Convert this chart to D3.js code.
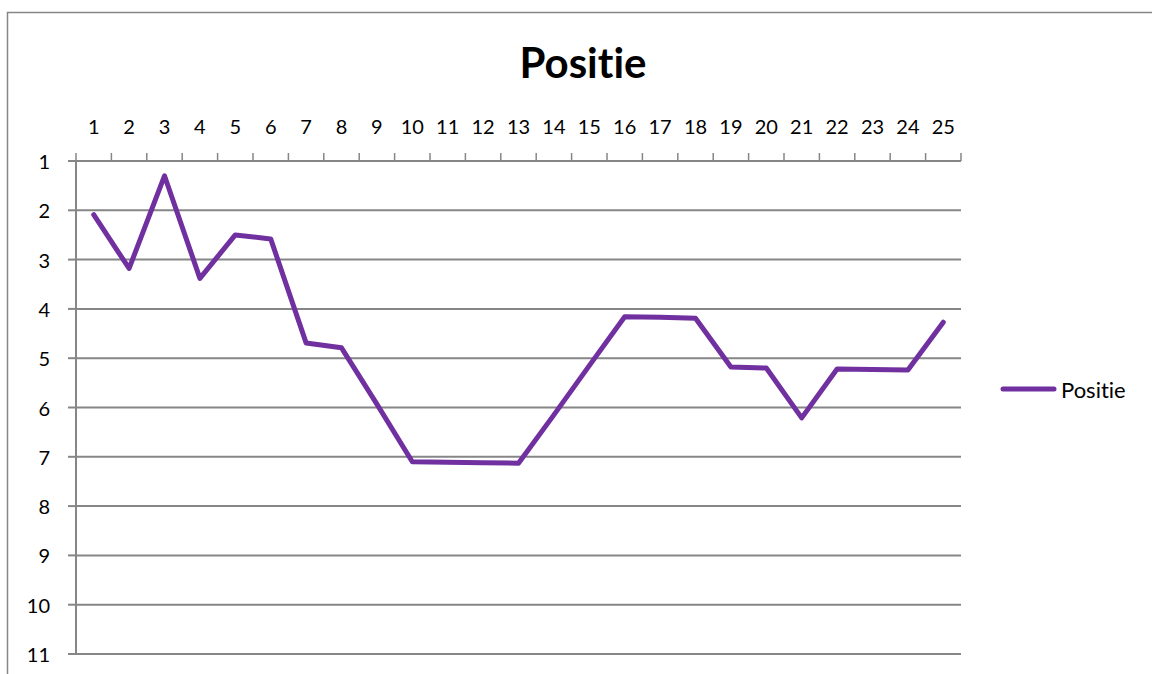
<!DOCTYPE html>
<html>
<head>
<meta charset="utf-8">
<script src="https://cdn.jsdelivr.net/npm/d3@7"></script>
<style>
  html, body { margin: 0; padding: 0; background: #fff; }
  svg { display: block; }
  text { font-family: Lato, "Open Sans", sans-serif; fill: #000; font-variant-ligatures: none; font-feature-settings: "liga" 0, "clig" 0; }
</style>
</head>
<body>
<svg id="chart" width="1152" height="674"></svg>
<script>
const categories = ["1","2","3","4","5","6","7","8","9","10","11","12","13","14","15","16","17","18","19","20","21","22","23","24","25"];
const positie = [2.09, 3.18, 1.30, 3.38, 2.50, 2.58, 4.69, 4.79, 5.93, 7.10, 7.11, 7.12, 7.13, 6.15, 5.15, 4.16, 4.17, 4.19, 5.18, 5.20, 6.21, 5.22, 5.23, 5.24, 4.27];
const yTicks = [1,2,3,4,5,6,7,8,9,10,11];
const title = "Positie";
const seriesName = "Positie";

const svg = d3.select("#chart");
const gridColor = "#868686";
const lineColor = "#7030A0";

// outer border
svg.append("rect")
  .attr("x", 7.5).attr("y", 12.5)
  .attr("width", 1160).attr("height", 700)
  .attr("fill", "none").attr("stroke", gridColor).attr("stroke-width", 1.5);

const plot = {left: 76, right: 961, top: 161, bottom: 654};

const x = d3.scaleBand().domain(categories).range([plot.left, plot.right]).paddingInner(0).paddingOuter(0);
const y = d3.scaleLinear().domain([1, 11]).range([plot.top, plot.bottom]);

// title
svg.append("text")
  .attr("x", 583).attr("y", 78)
  .attr("text-anchor", "middle")
  .style("font-size", "42px").style("font-weight", "bold")
  .text(title);

// gridlines
svg.append("g").selectAll("line").data(yTicks.filter(d => d !== 1)).join("line")
  .attr("x1", plot.left).attr("x2", plot.right)
  .attr("y1", d => y(d)).attr("y2", d => y(d))
  .attr("stroke", gridColor).attr("stroke-width", 2);

// y axis line + ticks
svg.append("line")
  .attr("x1", plot.left).attr("x2", plot.left)
  .attr("y1", plot.top).attr("y2", plot.bottom)
  .attr("stroke", gridColor).attr("stroke-width", 2);
svg.append("g").selectAll("line").data(yTicks).join("line")
  .attr("x1", plot.left - 8).attr("x2", plot.left)
  .attr("y1", d => y(d)).attr("y2", d => y(d))
  .attr("stroke", gridColor).attr("stroke-width", 2);
svg.append("g").selectAll("text").data(yTicks).join("text")
  .attr("x", 50).attr("y", d => y(d))
  .attr("text-anchor", "end").attr("dominant-baseline", "central")
  .style("font-size", "20px")
  .text(d => d);

// x axis (top) line + ticks at band boundaries
svg.append("line")
  .attr("x1", plot.left).attr("x2", plot.right)
  .attr("y1", plot.top).attr("y2", plot.top)
  .attr("stroke", gridColor).attr("stroke-width", 2);
const bounds = categories.map(c => x(c)).concat([x(categories[categories.length-1]) + x.bandwidth()]);
svg.append("g").selectAll("line").data(bounds).join("line")
  .attr("x1", d => d).attr("x2", d => d)
  .attr("y1", plot.top - 8).attr("y2", plot.top)
  .attr("stroke", gridColor).attr("stroke-width", 1.5);
svg.append("g").selectAll("text").data(categories).join("text")
  .attr("x", d => x(d) + x.bandwidth()/2).attr("y", 134)
  .attr("text-anchor", "middle")
  .style("font-size", "20px")
  .text(d => d);

// line
const line = d3.line()
  .x((d, i) => x(categories[i]) + x.bandwidth()/2)
  .y(d => y(d));
svg.append("path")
  .datum(positie)
  .attr("d", line)
  .attr("fill", "none").attr("stroke", lineColor)
  .attr("stroke-width", 5).attr("stroke-linecap", "round").attr("stroke-linejoin", "round");

// legend
const lg = svg.append("g");
lg.append("line")
  .attr("x1", 1003).attr("x2", 1054).attr("y1", 389).attr("y2", 389)
  .attr("stroke", lineColor).attr("stroke-width", 5).attr("stroke-linecap", "round");
lg.append("text")
  .attr("x", 1061).attr("y", 389)
  .attr("dominant-baseline", "central")
  .style("font-size", "22px")
  .text(seriesName);
</script>
</body>
</html>
